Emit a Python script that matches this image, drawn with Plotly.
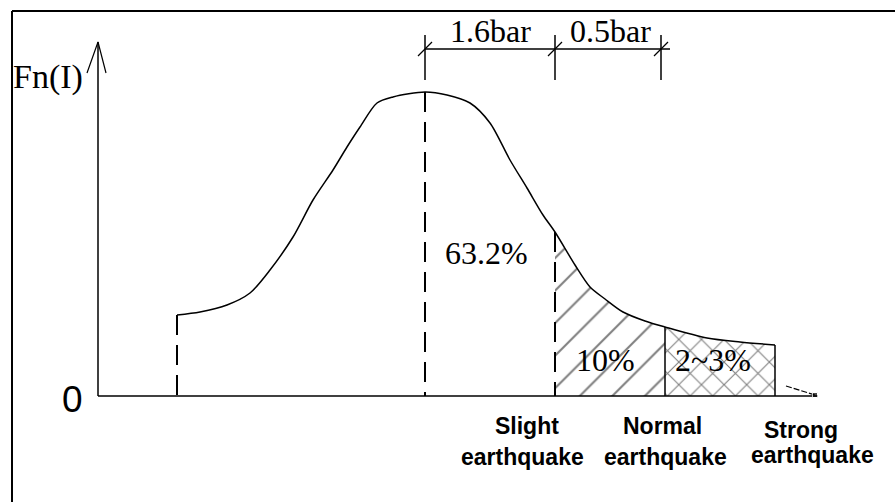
import plotly.graph_objects as go

# ---- data (schematic units: x along intensity axis, y = Fn(I) above the x-axis) ----
curve_x = [177, 200, 227, 250, 270, 293, 313, 333, 347, 360, 377, 393, 425, 447, 470,
           490, 510, 527, 543, 555, 575, 590, 605, 623, 645, 665, 707, 740, 775]
curve_y = [81, 84, 91, 103, 126, 159, 196, 226, 249, 269, 293, 299, 304, 301, 293,
           273, 236, 208, 181, 164, 131, 109, 97, 84, 75, 69, 58, 54, 51]

start_x = 177          # start of distribution
peak_x = 425           # mean intensity
slight_x = 555         # slight earthquake boundary (+1.6 bar)
normal_x = 665         # normal earthquake boundary
strong_x = 775         # strong earthquake boundary
dim_ticks = [425, 555, 661]
dim_labels = ["1.6bar", "0.5bar"]
area_labels = ["63.2%", "10%", "2~3%"]
cat_line1 = ["Slight", "Normal", "Strong"]
cat_line2 = ["earthquake", "earthquake", "earthquake"]

def yat(x):
    return curve_y[curve_x.index(x)]

fig = go.Figure()
black = "black"

# hatched areas
sx = [x for x in curve_x if slight_x <= x <= normal_x]
sy = [yat(x) for x in sx]
fig.add_trace(go.Scatter(x=sx, y=sy, mode="lines", line=dict(width=0, shape="spline", smoothing=0.8),
                         fill="tozeroy", fillcolor="white",
                         fillpattern=dict(shape="/", size=23, solidity=0.09, fgcolor=black, bgcolor="white"),
                         hoverinfo="skip", showlegend=False))
nx = [x for x in curve_x if normal_x <= x <= strong_x]
ny = [yat(x) for x in nx]
fig.add_trace(go.Scatter(x=nx, y=ny, mode="lines", line=dict(width=0, shape="spline", smoothing=0.8),
                         fill="tozeroy", fillcolor="white",
                         fillpattern=dict(shape="x", size=16, solidity=0.13, fgcolor=black, bgcolor="white"),
                         hoverinfo="skip", showlegend=False))

# curve
fig.add_trace(go.Scatter(x=curve_x, y=curve_y, mode="lines",
                         line=dict(color=black, width=1.5, shape="spline", smoothing=0.8),
                         hoverinfo="skip", showlegend=False))

# dashed verticals
for xv in [start_x, peak_x, slight_x]:
    fig.add_trace(go.Scatter(x=[xv, xv], y=[yat(xv), 0], mode="lines",
                             line=dict(color=black, width=2, dash="20px,10px"),
                             hoverinfo="skip", showlegend=False))
# solid verticals
for xv in [normal_x, strong_x]:
    fig.add_trace(go.Scatter(x=[xv, xv], y=[yat(xv), 0], mode="lines",
                             line=dict(color=black, width=1.5),
                             hoverinfo="skip", showlegend=False))

# axes
fig.add_trace(go.Scatter(x=[98, 98], y=[0, 354], mode="lines", line=dict(color=black, width=1.5),
                         hoverinfo="skip", showlegend=False))
fig.add_trace(go.Scatter(x=[87, 98, 106], y=[323, 354, 323], mode="lines", line=dict(color=black, width=1.2),
                         hoverinfo="skip", showlegend=False))
fig.add_trace(go.Scatter(x=[98, 818], y=[0, 0], mode="lines", line=dict(color=black, width=1.5),
                         hoverinfo="skip", showlegend=False))
fig.add_trace(go.Scatter(x=[786, 815], y=[10, 1], mode="lines+markers",
                         line=dict(color=black, width=1.2, dash="6px,2px"),
                         marker=dict(symbol="square", size=[0, 5], color=black),
                         hoverinfo="skip", showlegend=False))

# dimension lines
fig.add_trace(go.Scatter(x=[dim_ticks[0], 670], y=[347, 347], mode="lines", line=dict(color=black, width=1.5),
                         hoverinfo="skip", showlegend=False))
for xv in dim_ticks:
    fig.add_trace(go.Scatter(x=[xv, xv], y=[316, 361], mode="lines", line=dict(color=black, width=1.5),
                             hoverinfo="skip", showlegend=False))
    fig.add_trace(go.Scatter(x=[xv - 7, xv + 7], y=[340, 354], mode="lines", line=dict(color=black, width=1.2),
                             hoverinfo="skip", showlegend=False))

serif = "Liberation Serif"
ann = []
dim_pos = [(490, 365), (610, 365)]
for t, (x, y) in zip(dim_labels, dim_pos):
    ann.append(dict(x=x, y=y, text=t, font=dict(family=serif, size=32, color=black)))
area_pos = [(486, 143), (605, 36), (713, 36)]
for t, (x, y) in zip(area_labels, area_pos):
    ann.append(dict(x=x, y=y, text=t, font=dict(family=serif, size=32, color=black)))
ann.append(dict(x=48, y=319, text="Fn(I)", font=dict(family=serif, size=34, color=black)))
ann.append(dict(x=72, y=-3, text="0", font=dict(family="Liberation Sans", size=37, color=black)))
l1_pos = [(527, -30), (662, -30), (801, -34)]
l2_pos = [(522, -61), (665, -61), (812, -59)]
for t, (x, y) in zip(cat_line1, l1_pos):
    ann.append(dict(x=x, y=y, text="<b>%s</b>" % t, font=dict(family="Liberation Sans", size=23, color=black)))
for t, (x, y) in zip(cat_line2, l2_pos):
    ann.append(dict(x=x, y=y, text="<b>%s</b>" % t, font=dict(family="Liberation Sans", size=23, color=black)))
for a in ann:
    a.update(showarrow=False, xanchor="center", yanchor="middle", xref="x", yref="y")

fig.update_layout(
    width=895, height=502, margin=dict(l=0, r=0, t=0, b=0),
    paper_bgcolor="white", plot_bgcolor="white",
    xaxis=dict(range=[0, 895], visible=False, fixedrange=True),
    yaxis=dict(range=[-106, 396], visible=False, fixedrange=True),
    annotations=ann,
    shapes=[
        dict(type="line", xref="x", yref="y", x0=12, x1=12, y0=-106, y1=385, line=dict(color=black, width=2)),
        dict(type="line", xref="x", yref="y", x0=12, x1=895, y0=385, y1=385, line=dict(color=black, width=2)),
    ],
)
fig.write_html("out.html", config={"displayModeBar": False},
               post_script="document.body.style.margin='0';document.body.style.overflow='hidden';")
